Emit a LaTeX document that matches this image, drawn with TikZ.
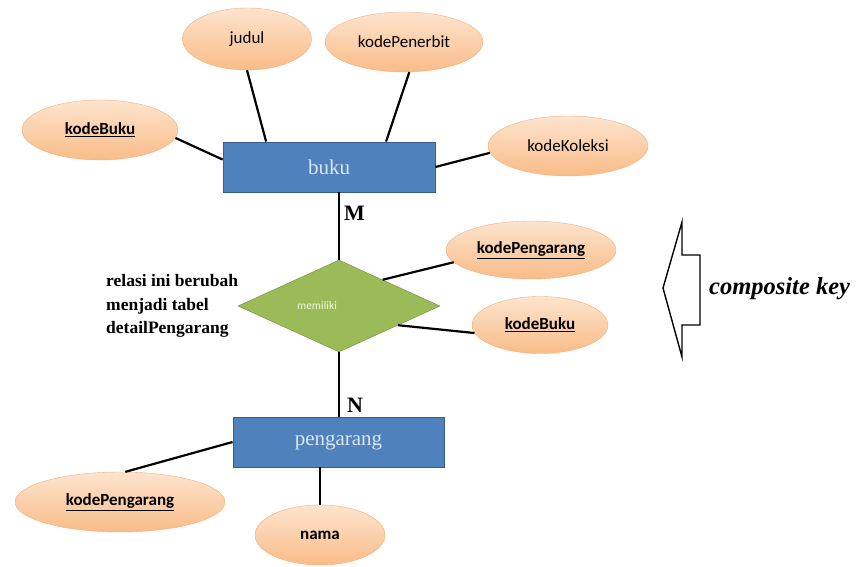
\documentclass[tikz,border=0pt]{standalone}
\usepackage{fontspec}
\setmainfont{Liberation Serif}
\newfontfamily\attrfont{Carlito}
\usetikzlibrary{shapes.geometric}
\definecolor{attrtop}{HTML}{FDE4CE}
\definecolor{attrbot}{HTML}{F9BC88}
\definecolor{attrline}{HTML}{F0B07C}
\definecolor{entfill}{HTML}{4F81BD}
\definecolor{entline}{HTML}{385D8A}
\definecolor{enttext}{HTML}{DCE6F2}
\definecolor{relfill}{HTML}{9BBB59}
\definecolor{relline}{HTML}{71893F}
\newcommand{\keyattr}[1]{\textbf{\underline{#1}}}

\begin{document}
\begin{tikzpicture}[x=1pt,y=-1pt,
    attr/.style={ellipse,top color=attrtop,bottom color=attrbot,draw=attrline,
      inner sep=0pt,font=\attrfont\fontsize{17}{20}\selectfont},
    entity/.style={rectangle,fill=entfill,draw=entline,thick,inner sep=0pt,
      text=enttext,font=\fontsize{21}{24}\selectfont},
    rel/.style={diamond,fill=relfill,draw=relline,inner sep=0pt,
      text=white!85!relfill,font=\attrfont\fontsize{11.5}{13}\selectfont},
    card/.style={font=\bfseries\fontsize{22}{24}\selectfont,inner sep=0pt},
    link/.style={line width=2.2pt}]
  \useasboundingbox (0,0) rectangle (867,567);
  \node[entity,minimum width=212pt,minimum height=50pt] (buku) at (329,167) {buku};
  \node[attr,minimum width=129pt,minimum height=62pt] (judul) at (247,39) {judul};
  \node[attr,minimum width=158pt,minimum height=60pt] (kodePenerbit) at (404,42) {kodePenerbit};
  \node[attr,minimum width=156pt,minimum height=60pt] (kodeBuku) at (100,130) {\keyattr{kodeBuku}};
  \node[attr,minimum width=160pt,minimum height=60pt] (kodeKoleksi) at (568,146) {kodeKoleksi};
  \node[rel,minimum width=202pt,minimum height=87pt] (memiliki) at (339,306) {memiliki\hspace*{44pt}};
  \node[attr,minimum width=170pt,minimum height=58pt] (kodePengarangR) at (531,250) {\keyattr{kodePengarang}};
  \node[attr,minimum width=136pt,minimum height=57pt] (kodeBukuR) at (540,325) {\keyattr{kodeBuku}};
  \node[entity,minimum width=211pt,minimum height=50pt] (pengarang) at (338.5,442) {pengarang};
  \node[attr,minimum width=210pt,minimum height=60pt] (kodePengarang) at (120,502) {\keyattr{kodePengarang}};
  \node[attr,minimum width=130pt,minimum height=60pt] (nama) at (320,535) {\textbf{nama}};
  \node[card,anchor=west] (m) at (344,213) {M};
  \node[card,anchor=west] (n) at (347,405) {N};
  \node[anchor=west,align=left,inner sep=0pt,font=\bfseries\fontsize{17.5}{23.5}\selectfont]
    (catatan) at (106,306) {relasi ini berubah\\menjadi tabel\\detailPengarang};
  \node[anchor=west,inner sep=0pt,font=\bfseries\itshape\fontsize{24.5}{28}\selectfont]
    (ckey) at (709,289) {composite key};
  \draw[link] (kodeBuku.-6) -- (buku.176);
  \draw[link] (judul.south) -- (buku.158);
  \draw[link] (kodePenerbit.-80) -- (buku.24);
  \draw[link] (kodeKoleksi.185) -- (buku.east);
  \draw[link] (memiliki.north) -- (memiliki.north |- buku.south);
  \draw[link] (memiliki.31) -- (kodePengarangR.189);
  \draw[link] (memiliki.-18) -- (kodeBukuR.187);
  \draw[link] (memiliki.south) -- (memiliki.south |- pengarang.north);
  \draw[link] (pengarang.west) -- (kodePengarang.80);
  \draw[link] (nama.north) -- (nama.north |- pengarang.south);
  \draw[line width=1.4pt,line join=miter,fill=white] (682,222) -- (682,255) -- (700,255) -- (700,325)
    -- (682,325) -- (682,357) -- (663,288) -- cycle;
\end{tikzpicture}
\end{document}
